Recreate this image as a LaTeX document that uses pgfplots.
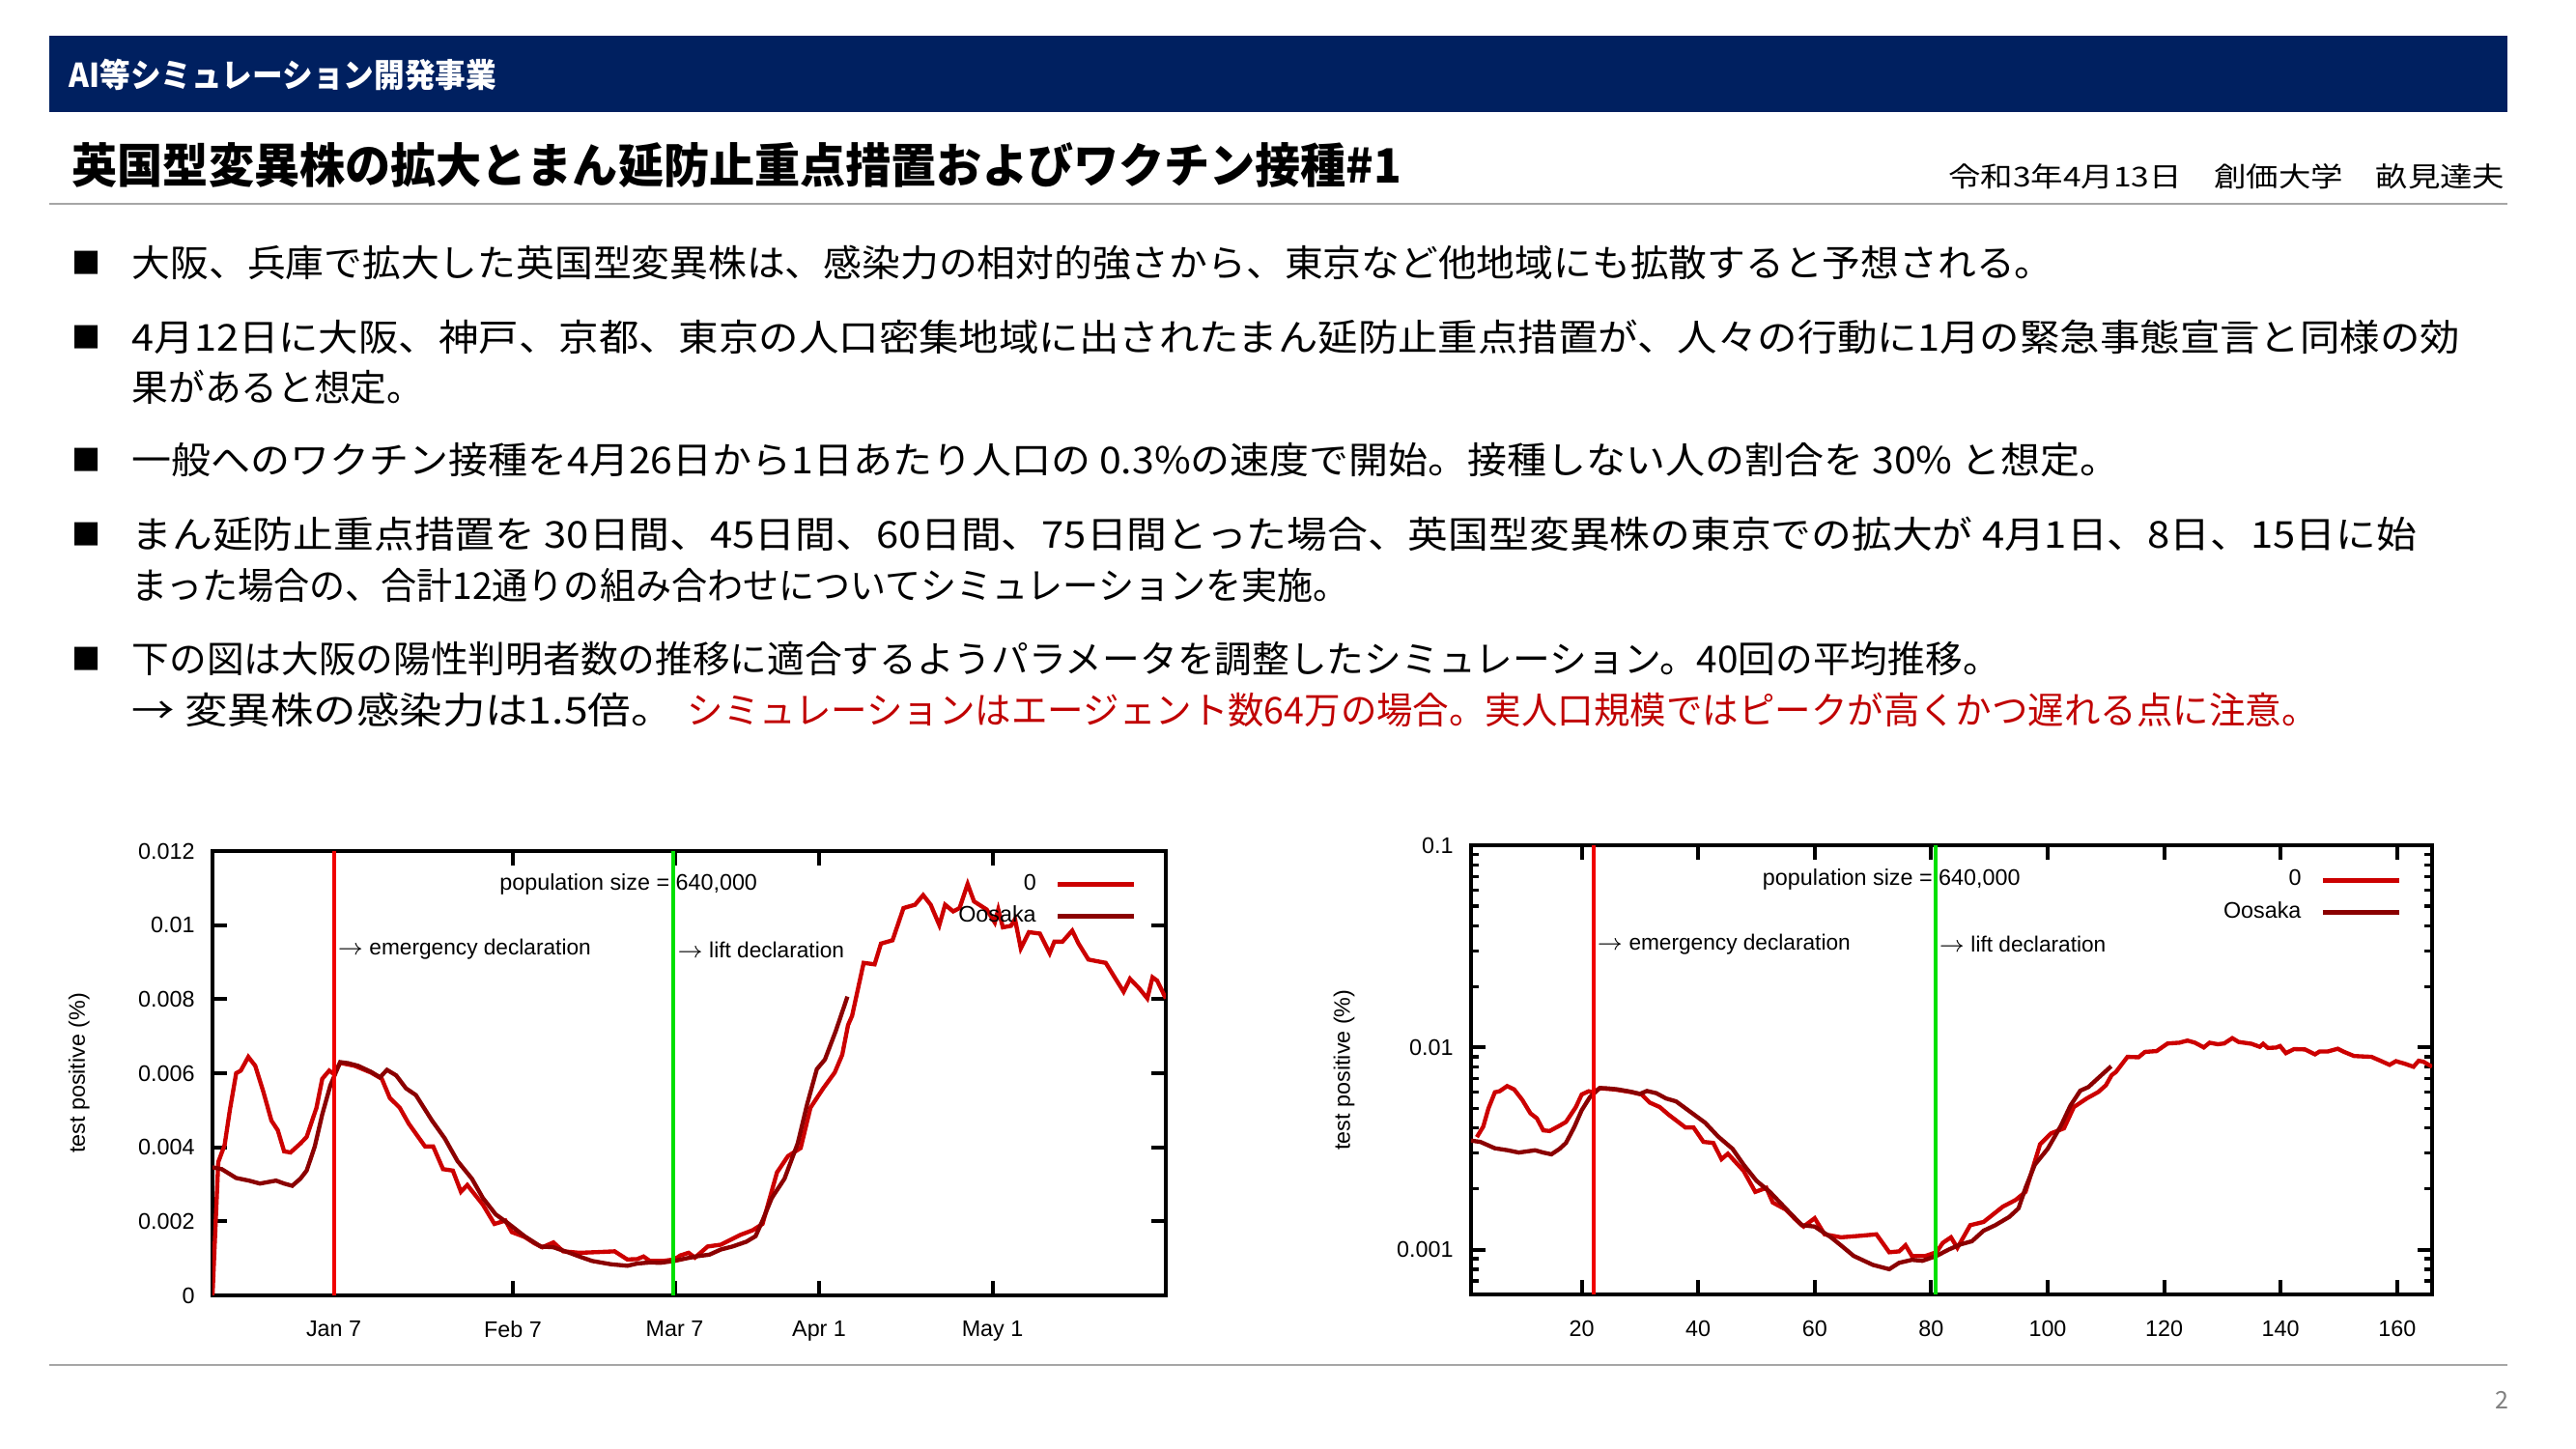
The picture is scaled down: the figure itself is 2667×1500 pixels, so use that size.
\documentclass[border=0pt]{standalone}
\usepackage{pgfplots}
\pgfplotsset{compat=1.18}
\usepackage{pgfplotstable}
\usepackage{graphicx}
\usepackage{fontspec}
\setmainfont{Liberation Sans}
\newfontfamily\jp{Noto Sans CJK JP}

\definecolor{navy}{HTML}{002060}
\definecolor{simred}{HTML}{CC0000}
\definecolor{osaka}{HTML}{8B0000}
\definecolor{declred}{HTML}{F00000}
\definecolor{declgreen}{HTML}{00E000}
\definecolor{txtred}{HTML}{C00000}
\definecolor{rulegray}{HTML}{A6A6A6}

% simulation "0": day, test positive
\pgfplotstableread{
day val
1 0.00000
2 0.00360
3.1 0.00406
4 0.00500
5.1 0.00600
5.9 0.00607
7.2 0.00644
8.4 0.00620
9.8 0.00550
11.2 0.00472
12.3 0.00446
13.4 0.00389
14.5 0.00386
16.2 0.00410
17.3 0.00428
19 0.00507
20 0.00585
21.2 0.00607
22 0.00598
23.1 0.00628
25.6 0.00620
28.4 0.00602
30.3 0.00585
31.7 0.00533
33.4 0.00507
35 0.00463
37.8 0.00402
39.2 0.00402
40.9 0.00341
42.6 0.00337
44 0.00280
45.1 0.00298
47.8 0.00245
49.8 0.00193
51.7 0.00202
52.8 0.00171
55 0.00158
56.7 0.00141
58.1 0.00130
60 0.00143
61.7 0.00119
64.5 0.00115
67.8 0.00117
70.6 0.00119
72.8 0.00097
74.5 0.00098
75.6 0.00105
76.7 0.00093
79 0.00093
80.9 0.00097
82 0.00108
83.4 0.00115
84.5 0.00102
86.7 0.00132
89 0.00137
92.3 0.00163
94.5 0.00176
96.2 0.00193
98.7 0.00332
100.6 0.00376
102.8 0.00398
104.5 0.00507
106.7 0.00559
108.7 0.00602
110 0.00650
111 0.00730
111.7 0.00755
113.7 0.00898
115.6 0.00894
116.7 0.00950
118.7 0.00959
120.6 0.01046
122.6 0.01055
124 0.01081
125.3 0.01055
126.8 0.01000
127.8 0.01055
129.2 0.01037
130.3 0.01046
131.7 0.01111
132.8 0.01064
135 0.01042
136.4 0.01007
137 0.01042
137.8 0.00994
139.2 0.00998
139.9 0.01016
140.9 0.00937
142.3 0.00981
144.2 0.00977
145.9 0.00924
146.7 0.00955
148.1 0.00955
149.8 0.00985
150.9 0.00950
152.6 0.00907
153.9 0.00903
155.6 0.00898
157.3 0.00855
158.7 0.00820
159.8 0.00855
161.4 0.00829
162.8 0.00802
163.7 0.00859
164.5 0.00850
166 0.00802
}\simtab

% observed Osaka
\pgfplotstableread{
day val
1 0.00346
2.6 0.00341
5.1 0.00317
7.3 0.00310
9.2 0.00302
12 0.00310
13.4 0.00302
14.8 0.00296
16.2 0.00315
17.3 0.00337
18.7 0.00402
20 0.00489
21.4 0.00567
23.1 0.00630
24.5 0.00627
26.2 0.00620
28.4 0.00604
30 0.00589
31.2 0.00609
32.8 0.00594
34.5 0.00559
36.2 0.00541
39 0.00472
41.2 0.00424
43.4 0.00363
45.9 0.00315
47.8 0.00263
50 0.00219
52.3 0.00193
55 0.00160
57.8 0.00132
60 0.00130
62.8 0.00115
64.5 0.00105
66.7 0.00093
70 0.00084
72.8 0.00080
74.5 0.00086
76.7 0.00089
78.5 0.00088
80.9 0.00093
83 0.00100
85 0.00106
87 0.00110
89 0.00124
91 0.00132
93.4 0.00145
95 0.00160
96.2 0.00202
97.8 0.00263
100 0.00315
102.3 0.00411
103.9 0.00515
105.6 0.00611
107 0.00637
108.9 0.00715
110.9 0.00807
}\osakatab

\pgfplotsset{
  slide chart/.style={
    scale only axis,
    xmin=1, xmax=166,
    scaled y ticks=false,
    tick align=inside, tick pos=both,
    major tick length=4.5pt, minor tick length=2.4pt,
    major tick style={black, line width=1.2pt},
    minor tick style={black, line width=1pt},
    axis line style={black, line width=1.3pt},
    ticklabel style={font=\fontsize{7}{8}\selectfont},
    xticklabel style={yshift=-4.5pt},
    yticklabel style={xshift=-2pt},
    label style={font=\fontsize{7}{8}\selectfont},
    legend style={draw=none, fill=none, anchor=north east, inner sep=0pt,
      font=\fontsize{7}{8}\selectfont, row sep=1.5pt, column sep=5pt,
      nodes={inner sep=1pt}},
    legend plot pos=right, legend cell align=right,
    legend image code/.code={\draw[##1, line width=1.5pt] (0pt,0pt) -- (23.7pt,0pt);},
  },
  every axis plot/.append style={line width=1.3pt},
}

\begin{document}
\begin{tikzpicture}[x=0.3pt,y=-0.3pt]
\path[fill=white, use as bounding box] (0,0) rectangle (2667,1500);

% header
\fill[navy] (51,37) rectangle (2596,116);
\node[anchor=west, inner sep=0, text=white] at (71,77)
  {\resizebox{132.7pt}{\height}{\jp\bfseries\fontsize{10.2}{12}\selectfont AI等シミュレーション開発事業}};
\node[anchor=west, inner sep=0] at (74,171)
  {\resizebox{413pt}{\height}{\jp\bfseries\fontsize{14.7}{16}\selectfont 英国型変異株の拡大とまん延防止重点措置およびワクチン接種\#1}};
\node[anchor=east, inner sep=0] at (2594,183)
  {\resizebox{172.8pt}{\height}{\jp\fontsize{8.5}{10}\selectfont 令和3年4月13日　創価大学　畝見達夫}};
\draw[rulegray, line width=0.7pt] (51,211) -- (2596,211);
\draw[rulegray, line width=0.7pt] (51,1413) -- (2596,1413);
\node[text=gray, inner sep=0] at (2590,1449) {\jp\fontsize{7.5}{9}\selectfont 2};

% bullets
\foreach \yy in {272,349,476,553,682}
  \node[inner sep=0] at (89,\yy) {\jp\fontsize{9}{9}\selectfont ■};
\node[anchor=west, inner sep=0] at (136,272)
  {\resizebox{596.7pt}{\height}{\jp\fontsize{11.5}{13}\selectfont 大阪、兵庫で拡大した英国型変異株は、感染力の相対的強さから、東京など他地域にも拡散すると予想される。}};
\node[anchor=west, inner sep=0] at (136,349)
  {\resizebox{723.1pt}{\height}{\jp\fontsize{11.5}{13}\selectfont 4月12日に大阪、神戸、京都、東京の人口密集地域に出されたまん延防止重点措置が、人々の行動に1月の緊急事態宣言と同様の効}};
\node[anchor=west, inner sep=0] at (136,401)
  {\resizebox{90.5pt}{\height}{\jp\fontsize{11.5}{13}\selectfont 果があると想定。}};
\node[anchor=west, inner sep=0] at (136,476)
  {\resizebox{617.4pt}{\height}{\jp\fontsize{11.5}{13}\selectfont 一般へのワクチン接種を4月26日から1日あたり人口の 0.3\%の速度で開始。接種しない人の割合を 30\% と想定。}};
\node[anchor=west, inner sep=0] at (136,553)
  {\resizebox{709.6pt}{\height}{\jp\fontsize{11.5}{13}\selectfont まん延防止重点措置を 30日間、45日間、60日間、75日間とった場合、英国型変異株の東京での拡大が 4月1日、8日、15日に始}};
\node[anchor=west, inner sep=0] at (136,606)
  {\resizebox{378pt}{\height}{\jp\fontsize{11.5}{13}\selectfont まった場合の、合計12通りの組み合わせについてシミュレーションを実施。}};
\node[anchor=west, inner sep=0] at (136,682)
  {\resizebox{580.2pt}{\height}{\jp\fontsize{11.5}{13}\selectfont 下の図は大阪の陽性判明者数の推移に適合するようパラメータを調整したシミュレーション。40回の平均推移。}};
\node[anchor=west, inner sep=0] at (136,735)
  {\resizebox{168.3pt}{\height}{\jp\fontsize{11.5}{13}\selectfont → 変異株の感染力は1.5倍。}};
\node[anchor=west, inner sep=0, text=txtred] at (711,735)
  {\resizebox{506.4pt}{\height}{\jp\fontsize{11.5}{13}\selectfont シミュレーションはエージェント数64万の場合。実人口規模ではピークが高くかつ遅れる点に注意。}};

% left chart: linear
\begin{axis}[slide chart,
  at={(66pt,-402.3pt)}, anchor=south west,
  width=296.1pt, height=138pt,
  ymin=0, ymax=0.012,
  xtick={22,53,81,106,136}, xticklabels={Jan 7,Feb 7,Mar 7,Apr 1,May 1},
  ytick={0,0.002,0.004,0.006,0.008,0.01,0.012},
  yticklabels={0,0.002,0.004,0.006,0.008,0.01,0.012},
  ylabel={test positive (\%)},
  ylabel style={at={(axis description cs:-0.14,0.5)}, anchor=center},
  legend style={at={(rel axis cs:0.97,0.957)}},
]
\addplot[simred] table[x=day, y=val] {\simtab};
\addlegendentry{0}
\addplot[osaka] table[x=day, y=val] {\osakatab};
\addlegendentry{Oosaka}
\addplot[declred, line width=1.2pt, forget plot] coordinates {(22,0) (22,0.012)};
\addplot[declgreen, line width=1.2pt, forget plot] coordinates {(80.8,0) (80.8,0.012)};
\node[anchor=east, font=\fontsize{7}{8}\selectfont, inner sep=0] at (axis cs:95.4,0.01110) {population size = 640,000};
\node[anchor=west, font=\fontsize{6.8}{8}\selectfont, inner sep=1pt] at (axis cs:22,0.00934) {$\rightarrow$ emergency declaration};
\node[anchor=west, font=\fontsize{6.8}{8}\selectfont, inner sep=1pt] at (axis cs:80.8,0.00934) {$\rightarrow$ lift declaration};
\end{axis}

% right chart: log scale
\begin{axis}[slide chart,
  at={(456.9pt,-402pt)}, anchor=south west,
  width=298.5pt, height=139.5pt,
  ymode=log, ymin=0.0006, ymax=0.1,
  xtick={20,40,60,80,100,120,140,160},
  xticklabels={20,40,60,80,100,120,140,160},
  ytick={0.001,0.01,0.1}, yticklabels={0.001,0.01,0.1},
  minor ytick={0.0006,0.0007,0.0008,0.0009,0.002,0.003,0.004,0.005,0.006,0.007,0.008,0.009,0.02,0.03,0.04,0.05,0.06,0.07,0.08,0.09},
  ylabel={test positive (\%)},
  ylabel style={at={(axis description cs:-0.132,0.5)}, anchor=center},
  legend style={at={(rel axis cs:0.969,0.954)}},
]
\addplot[simred] table[x=day, y=val] {\simtab};
\addlegendentry{0}
\addplot[osaka] table[x=day, y=val] {\osakatab};
\addlegendentry{Oosaka}
\addplot[declred, line width=1.2pt, forget plot] coordinates {(22,0.0006) (22,0.1)};
\addplot[declgreen, line width=1.2pt, forget plot] coordinates {(80.7,0.0006) (80.7,0.1)};
\node[anchor=east, font=\fontsize{7}{8}\selectfont, inner sep=0] at (axis cs:95.4,0.0680) {population size = 640,000};
\node[anchor=west, font=\fontsize{6.8}{8}\selectfont, inner sep=1pt] at (axis cs:22,0.0325) {$\rightarrow$ emergency declaration};
\node[anchor=west, font=\fontsize{6.8}{8}\selectfont, inner sep=1pt] at (axis cs:80.7,0.0325) {$\rightarrow$ lift declaration};
\end{axis}
\end{tikzpicture}
\end{document}
